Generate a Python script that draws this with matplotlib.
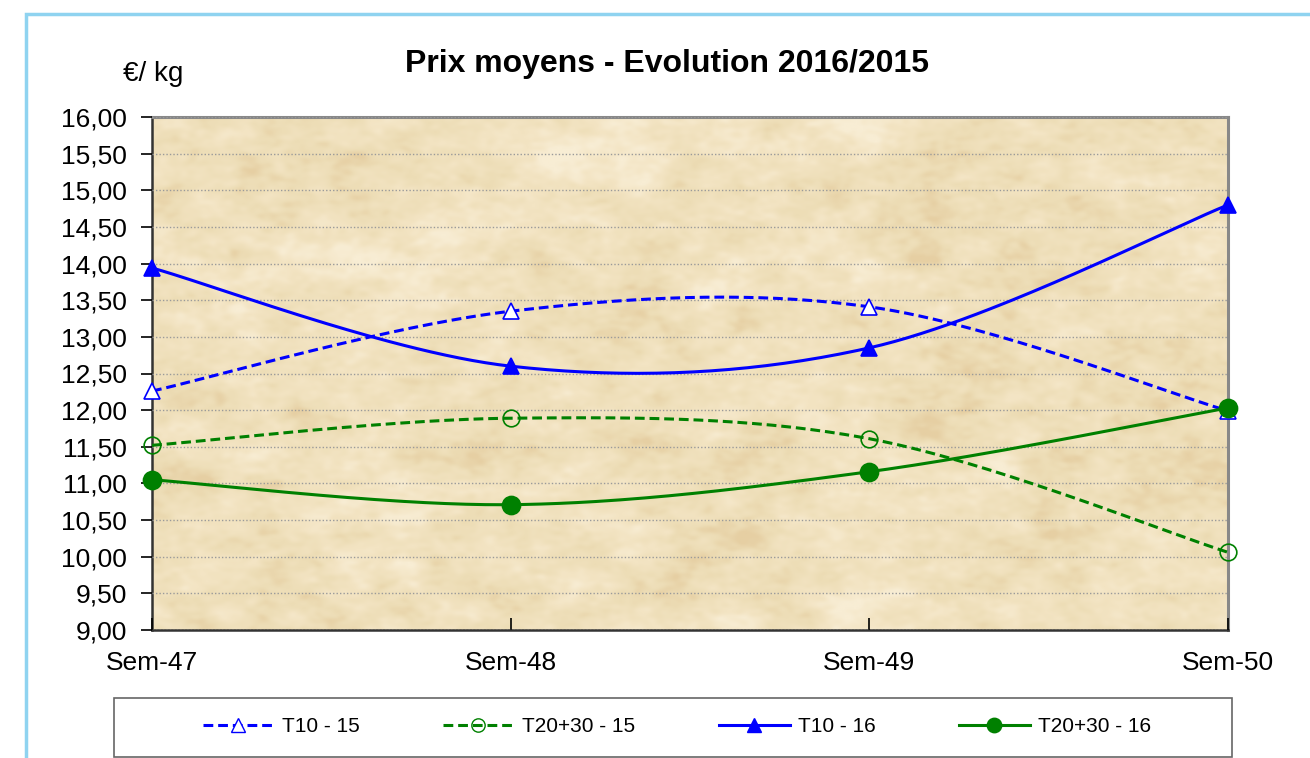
"""Prix moyens - evolution 2016/2015."""

import numpy as np
import matplotlib
matplotlib.use("Agg")
import matplotlib.pyplot as plt
from matplotlib.colors import LinearSegmentedColormap
from matplotlib.patches import Rectangle
from matplotlib.lines import Line2D

weeks = ["Sem-47", "Sem-48", "Sem-49", "Sem-50"]
t10_15 = [12.26, 13.35, 13.41, 11.99]
t2030_15 = [11.52, 11.89, 11.61, 10.06]
t10_16 = [13.94, 12.60, 12.85, 14.80]
t2030_16 = [11.05, 10.71, 11.16, 12.03]

y_ticks = np.arange(9.0, 16.01, 0.5)

BLUE = "#0000ff"
GREEN = "#008000"
FONT = "Liberation Sans"


def _smooth(xs, ys, n=60):
    # Excel-like smoothed line: cubic bezier between points
    p = np.column_stack([xs, ys]).astype(float)
    pts = np.vstack([p[0], p, p[-1]])
    out = []
    for i in range(len(p) - 1):
        p0, p1, p2, p3 = pts[i], pts[i + 1], pts[i + 2], pts[i + 3]
        c1 = p1 + (p2 - p0) / 6.0
        c2 = p2 - (p3 - p1) / 6.0
        t = np.linspace(0, 1, n)[:, None]
        seg = ((1 - t) ** 3) * p1 + 3 * ((1 - t) ** 2) * t * c1 + 3 * (1 - t) * t ** 2 * c2 + t ** 3 * p2
        out.append(seg if i == 0 else seg[1:])
    s = np.vstack(out)
    return s[:, 0], s[:, 1]


def _texture(h=300, w=620):
    # parchment-like background, decoration only
    rng = np.random.default_rng(3)
    img = np.zeros((h, w))
    for scale, amp in [(2, 0.5), (6, 0.8), (16, 0.6), (40, 0.4)]:
        noise = rng.standard_normal((h, w))
        fy = np.fft.fftfreq(h)[:, None] * 0.6
        fx = np.fft.fftfreq(w)[None, :]
        filt = np.exp(-((fx ** 2 + fy ** 2) * (scale ** 2) * 20))
        layer = np.real(np.fft.ifft2(np.fft.fft2(noise) * filt))
        layer /= layer.std()
        img += amp * layer
    img = np.clip((img - img.mean()) / (3 * img.std()), -1, 1) * 0.5 + 0.5
    return img


fig = plt.figure(figsize=(13.1, 7.58), dpi=100)
fig.patch.set_facecolor("white")

# light blue outer frame
fig.patches.append(Rectangle((26 / 1310, -0.2), 1.5, (758 - 14) / 758 + 0.2,
                             transform=fig.transFigure, fill=False,
                             edgecolor="#8fd3f0", linewidth=2.5, zorder=0))

ax = fig.add_axes([152 / 1310, 128 / 758, 1076 / 1310, 513 / 758])

x = np.arange(len(weeks))
ax.set_xlim(0, len(weeks) - 1)
ax.set_ylim(9, 16)

cmap = LinearSegmentedColormap.from_list("parch", ["#e6cfa3", "#edddb6", "#f3e4c3", "#f8edd4"])
ax.imshow(_texture(), extent=(0, len(weeks) - 1, 9, 16), aspect="auto",
          cmap=cmap, zorder=0, interpolation="bilinear")

ax.yaxis.grid(True, color="#9a9a9a", linestyle=(0, (1, 1.5)), linewidth=1.0, zorder=1)
ax.set_axisbelow(False)

series = [
    (t10_15, BLUE, (0, (3.2, 1.6)), "^", "white", 12, "T10 - 15"),
    (t2030_15, GREEN, (0, (3.2, 1.6)), "o", "none", 12, "T20+30 - 15"),
    (t10_16, BLUE, "-", "^", BLUE, 12, "T10 - 16"),
    (t2030_16, GREEN, "-", "o", GREEN, 13, "T20+30 - 16"),
]

handles = []
for vals, col, ls, mk, mfc, ms, lab in series:
    sx, sy = _smooth(x, vals)
    ax.plot(sx, sy, color=col, linestyle=ls, linewidth=2.2, zorder=3, clip_on=False)
    ax.plot(x, vals, linestyle="none", marker=mk, markersize=ms, markerfacecolor=mfc,
            markeredgecolor=col, markeredgewidth=1.2, zorder=4, clip_on=False)
    handles.append(Line2D([], [], color=col, linestyle=ls, linewidth=2.2, marker=mk,
                          markersize=ms * 0.8, markerfacecolor=mfc, markeredgecolor=col,
                          markeredgewidth=1.0, label=lab))

ax.set_yticks(y_ticks)
ax.set_yticklabels([f"{v:.2f}".replace(".", ",") for v in y_ticks])
ax.set_xticks(x)
ax.set_xticklabels(weeks)
ax.tick_params(axis="y", direction="out", length=8, width=1.2, labelsize=19, pad=10)
ax.tick_params(axis="x", direction="in", length=9, width=1.2, labelsize=19, pad=15)

for side in ("left", "bottom"):
    ax.spines[side].set_color("#333333")
    ax.spines[side].set_linewidth(1.8)
for side in ("top", "right"):
    ax.spines[side].set_color("#888888")
    ax.spines[side].set_linewidth(2.2)

fig.text(667 / 1310, 1 - 64 / 758, "Prix moyens - Evolution 2016/2015", ha="center",
         va="center", fontsize=23, fontweight="bold", family=FONT)
fig.text(153 / 1310, 1 - 74 / 758, "€/ kg", ha="center", va="center", fontsize=20,
         family=FONT)

# legend box
fig.patches.append(Rectangle((114 / 1310, 1 - 757 / 758), (1232 - 114) / 1310, 59 / 758,
                             transform=fig.transFigure, fill=True, facecolor="white",
                             edgecolor="#666666", linewidth=1.2, zorder=1))
fig.legend(handles=handles, loc="center", bbox_to_anchor=(677 / 1310, 1 - 727 / 758),
           ncol=4, frameon=False, handlelength=3.4, handletextpad=0.4,
           columnspacing=4.0, prop={"family": FONT, "size": 15})

for t in ax.get_xticklabels() + ax.get_yticklabels():
    t.set_family(FONT)

fig.savefig("out.png", dpi=100)
